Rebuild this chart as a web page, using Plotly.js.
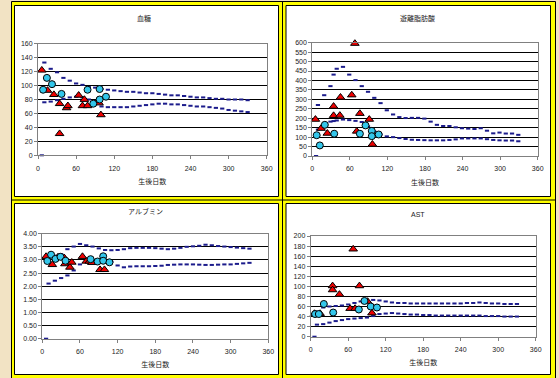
<!DOCTYPE html>
<html><head><meta charset="utf-8">
<script src="https://cdn.plot.ly/plotly-3.0.1.min.js"></script>
<style>html,body{margin:0;padding:0;background:#f2e3c4;}#chart{width:559px;height:378px;}</style>
</head><body><div id="chart"></div>
<script>
// ---------- data ----------
const panelTitles = ['血糖', '遊離脂肪酸', 'アルブミン', 'AST'];
const xTitle = '生後日数';
const xTicks = [0, 60, 120, 180, 240, 300, 360];

const refDays = [10,20,30,40,50,60,70,80,90,100,110,120,130,140,150,160,170,180,190,200,210,220,230,240,250,260,270,280,290,300,310,320,330];
const refDaysFFA = [9,19,29,34,39,49,59,69,79,89,99,109,119,129,139,149,159,169,179,189,199,209,219,229,239,249,259,269,279,289,299,309,319,329];
const zeroDays = [6];
const zeroVals = [0];

// 血糖
const gluTriDays = [6, 15, 25, 34, 34, 45, 47, 64, 70, 73, 78, 94, 96, 99];
const gluTriVals = [122, 93, 87, 74, 31, 68, 71, 86, 71, 80, 71, 77, 75, 58];
const gluCirDays = [8, 14, 22, 37, 78, 87, 97, 97, 107];
const gluCirVals = [94, 111, 102, 88, 94, 74, 95, 80, 84];
const gluUpper = [133,124,119,111,107,103,101,98,97,95,94,93,92,91,91,90,89,89,88,87,86,86,85,84,83,83,82,81,81,80,80,80,79];
const gluLower = [76,77,79,81,83,84,83,80,73,70,69,69,69,69,70,71,72,73,74,74,73,73,72,71,70,70,69,68,67,65,64,63,62];

// 遊離脂肪酸
const ffaTriDays = [5, 14, 24, 34, 34, 44, 45, 63, 68, 71, 76, 91, 96];
const ffaTriVals = [194, 146, 120, 263, 214, 215, 311, 323, 596, 131, 225, 194, 62];
const ffaCirDays = [7, 12, 20, 35, 76, 85, 95, 95, 106];
const ffaCirVals = [110, 56, 165, 118, 118, 162, 133, 105, 114];
const ffaUpper = [270,322,370,431,462,472,431,402,370,340,308,280,242,220,206,201,202,202,198,182,165,159,159,152,147,145,143,147,134,120,124,119,119,112];
const ffaLower = [140,165,182,185,188,193,190,186,180,157,130,114,104,100,95,90,86,85,84,83,83,83,85,88,93,93,93,93,89,85,83,82,82,78];

// アルブミン
const albTriDays = [6, 16, 25, 35, 36, 44, 47, 64, 70, 75, 79, 92, 99];
const albTriVals = [3.13, 2.82, 3.11, 3.08, 2.85, 2.72, 2.91, 3.13, 2.95, 2.95, 2.90, 2.63, 2.63];
const albCirDays = [8, 14, 21, 29, 37, 77, 88, 97, 97, 107];
const albCirVals = [2.96, 3.20, 3.04, 3.12, 2.97, 3.03, 2.94, 3.14, 2.97, 2.91];
const albUpper = [3.08,3.16,3.22,3.41,3.51,3.61,3.56,3.51,3.44,3.38,3.37,3.38,3.41,3.45,3.46,3.46,3.46,3.45,3.43,3.41,3.43,3.46,3.50,3.52,3.54,3.58,3.56,3.53,3.51,3.49,3.47,3.45,3.43];
const albLower = [2.10,2.21,2.31,2.41,2.60,2.83,2.96,3.00,3.00,2.97,2.93,2.79,2.72,2.75,2.76,2.76,2.76,2.77,2.78,2.81,2.82,2.83,2.83,2.83,2.82,2.81,2.81,2.82,2.83,2.83,2.85,2.87,2.89];

// AST
const astTriDays = [6, 15, 35, 35, 46, 63, 71, 68, 78, 91, 98];
const astTriVals = [46, 46, 101, 93, 84, 56, 56, 174, 101, 70, 47];
const astCirDays = [7, 13, 21, 36, 77, 86, 96, 106];
const astCirVals = [45, 45, 65, 48, 54, 71, 60, 58];
const astUpper = [50,58,60,61,62,64,67,70,73,73,72,70,68,67,67,66,66,66,66,66,66,66,66,66,67,67,68,67,66,66,65,65,65];
const astLower = [24,25,28,31,33,35,36,37,38,41,45,46,47,46,45,44,44,43,43,42,42,42,42,42,42,42,42,41,41,41,40,40,40];

const yRanges = [[0,160],[0,600],[0,4],[0,200]];
const yDticks = [20, 50, 0.5, 20];

// ---------- layout geometry (pixels) ----------
const W = 559, H = 378;
const px = v => v / W, py = v => 1 - v / H;
const plots = [
  {l:38, r:266.7, t:43.7, b:155.3, tx:144, ty:19},
  {l:312.3, r:537.7, t:42.7, b:156, tx:417.7, ty:18},
  {l:42.3, r:268.3, t:233.7, b:338.7, tx:145.7, ty:210.7},
  {l:310.7, r:535.7, t:236, b:336.7, tx:417.7, ty:214}
];

const series = [
  {tri:[gluTriDays,gluTriVals], cir:[gluCirDays,gluCirVals], up:[refDays,gluUpper], lo:[refDays,gluLower]},
  {tri:[ffaTriDays,ffaTriVals], cir:[ffaCirDays,ffaCirVals], up:[refDaysFFA,ffaUpper], lo:[refDaysFFA,ffaLower]},
  {tri:[albTriDays,albTriVals], cir:[albCirDays,albCirVals], up:[refDays,albUpper], lo:[refDays,albLower]},
  {tri:[astTriDays,astTriVals], cir:[astCirDays,astCirVals], up:[refDays,astUpper], lo:[refDays,astLower]}
];

const FONT = 'Arial, "Liberation Sans", "Noto Sans CJK JP", sans-serif';
const NAVY = '#1c1c8c';
const traces = [];
const layout = {
  width: W, height: H,
  margin: {l:0, r:0, t:0, b:0},
  paper_bgcolor: '#f2e3c4',
  plot_bgcolor: '#ffffff',
  showlegend: false,
  font: {family: FONT, size: 7, color: '#222'},
  annotations: [],
  shapes: []
};

series.forEach((s, i) => {
  const k = i === 0 ? '' : String(i + 1);
  const xa = 'x' + k, ya = 'y' + k;
  const dashMarker = {symbol:'line-ew', size:3, line:{width:2, color:NAVY}, color:NAVY};
  traces.push({x:s.up[0], y:s.up[1], xaxis:xa, yaxis:ya, mode:'markers', marker:dashMarker, cliponaxis:false, hoverinfo:'skip'});
  traces.push({x:s.lo[0], y:s.lo[1], xaxis:xa, yaxis:ya, mode:'markers', marker:dashMarker, cliponaxis:false, hoverinfo:'skip'});
  traces.push({x:zeroDays, y:zeroVals, xaxis:xa, yaxis:ya, mode:'markers', marker:dashMarker, cliponaxis:false, hoverinfo:'skip'});
  traces.push({x:s.tri[0], y:s.tri[1], xaxis:xa, yaxis:ya, mode:'markers', cliponaxis:false,
    marker:{symbol:'triangle-up', size:7.5, color:'#ee0000', line:{width:1, color:'#000'}}});
  traces.push({x:s.cir[0], y:s.cir[1], xaxis:xa, yaxis:ya, mode:'markers', cliponaxis:false,
    marker:{symbol:'circle', size:7, color:'#33c6ea', line:{width:1, color:'#000'}}});

  const p = plots[i];
  layout['xaxis' + k] = {
    domain:[px(p.l), px(p.r)], anchor: ya, range:[0,360], tickvals: xTicks,
    showgrid:false, zeroline:false, showline:true, mirror:true, linecolor:'#808080', linewidth:1,
    ticks:'outside', ticklen:3, tickcolor:'#808080', tickfont:{size:7, color:'#222'},
    ticklabelstandoff:3,
    title:{text:xTitle, font:{size:7, color:'#222'}, standoff:8}, fixedrange:true
  };
  layout['yaxis' + k] = {
    domain:[py(p.b), py(p.t)], anchor: xa, range: yRanges[i], dtick: yDticks[i], tick0:0,
    tickformat: i === 2 ? '.2f' : '',
    showgrid:true, gridcolor:'#000', gridwidth:1, zeroline:false, showline:true, mirror:true,
    linecolor:'#808080', linewidth:1, ticks:'outside', ticklen:3, tickcolor:'#808080',
    tickfont:{size:7, color:'#222'}, fixedrange:true
  };
  layout.annotations.push({text: panelTitles[i], xref:'paper', yref:'paper', x:px(p.tx), y:py(p.ty),
    xanchor:'center', yanchor:'middle', showarrow:false, font:{size:7, color:'#222'}});
});

// frame: yellow double borders
const rect = (x0,y0,x1,y1,fill,lw) => ({type:'rect', xref:'paper', yref:'paper', layer:'below',
  x0:px(x0), x1:px(x1), y0:py(y1), y1:py(y0), fillcolor:fill, line:{color:'#000', width:lw}});
layout.shapes.push(rect(11.5, 1.5, 555.5, 378.5, '#ffff00', 1));
layout.shapes.push({type:'line', xref:'paper', yref:'paper', layer:'below', x0:px(282.5), x1:px(282.5), y0:py(1.5), y1:py(378.5), line:{color:'#000', width:1}});
layout.shapes.push({type:'line', xref:'paper', yref:'paper', layer:'below', x0:px(11.5), x1:px(555.5), y0:py(200), y1:py(200), line:{color:'#000', width:1}});
layout.shapes.push(rect(14.5, 5.5, 278.5, 196.5, '#ffffff', 1));
layout.shapes.push(rect(286, 5.5, 550.5, 196.5, '#ffffff', 1));
layout.shapes.push(rect(14.5, 203.5, 278.5, 374.5, '#ffffff', 1));
layout.shapes.push(rect(286, 203.5, 550.5, 374.5, '#ffffff', 1));

Plotly.newPlot('chart', traces, layout, {staticPlot:true, displayModeBar:false});
</script>
</body></html>
